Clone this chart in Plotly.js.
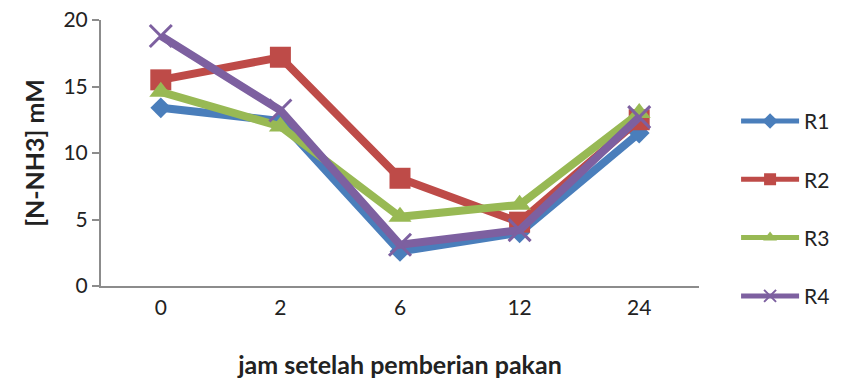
<!DOCTYPE html>
<html><head><meta charset="utf-8">
<script src="https://cdn.plot.ly/plotly-3.0.1.min.js"></script>
<style>body{margin:0;background:#fff}#c{width:847px;height:388px}</style>
</head><body><div id="c"></div>
<script>
const categories = ["0", "2", "6", "12", "24"];
const seriesNames = ["R1", "R2", "R3", "R4"];
const R1 = [13.4, 12.4, 2.6, 4.0, 11.5];
const R2 = [15.5, 17.2, 8.1, 4.8, 12.5];
const R3 = [14.6, 12.0, 5.2, 6.1, 13.0];
const R4 = [18.8, 13.2, 3.1, 4.2, 12.7];
const yTicks = [0, 5, 10, 15, 20];

const colors = ["#4a7ebb", "#be4b48", "#98b954", "#7d60a0"];
const symbols = ["diamond", "square", "triangle-up", "x-thin"];
const sizes = [16, 21, 20, 22];
const data = [R1, R2, R3, R4].map((v, i) => ({
  type: "scatter", mode: "lines+markers", name: seriesNames[i],
  x: categories, y: v, legendgroup: "g" + i,
  line: {color: colors[i], width: 8},
  marker: {symbol: symbols[i], size: sizes[i], color: colors[i],
           line: {color: colors[i], width: i === 3 ? 3 : 0}}
}));
const layout = {
  width: 847, height: 388,
  margin: {l: 101, r: 146, t: 20, b: 102},
  paper_bgcolor: "#fff", plot_bgcolor: "#fff",
  font: {family: "Lato, Carlito, sans-serif", color: "#222", size: 21},
  xaxis: {type: "category", range: [-0.5, 4.5], showgrid: false, zeroline: false,
          showline: true, linecolor: "#8c8c8c", linewidth: 2, ticks: "",
          tickfont: {size: 21}, ticklabelstandoff: 2,
          title: {text: "<b>jam setelah pemberian pakan</b>", font: {size: 25}, standoff: 38}},
  yaxis: {range: [0, 20], tickvals: yTicks, showgrid: false, zeroline: false,
          showline: true, linecolor: "#8c8c8c", linewidth: 2, ticks: "outside",
          ticklen: 7, tickcolor: "#8c8c8c", tickwidth: 2, tickfont: {size: 21},
          title: {text: "<b>[N-NH3] mM</b>", font: {size: 25}, standoff: 12}},
  showlegend: true,
  legend: {x: 1.062, xanchor: "left", y: 0.29, yanchor: "middle", traceorder: "grouped",
           tracegroupgap: 28, itemwidth: 58, font: {size: 21}, itemsizing: "constant",
           borderwidth: 0}
};
Plotly.newPlot("c", data, layout, {displayModeBar: false, staticPlot: true});
</script></body></html>
